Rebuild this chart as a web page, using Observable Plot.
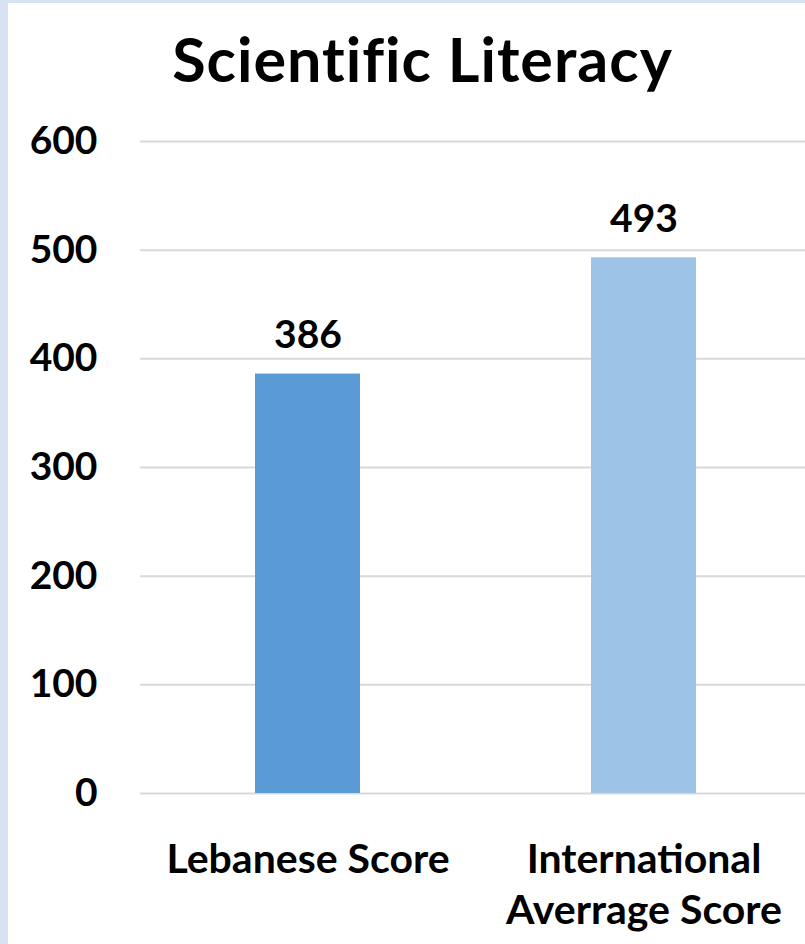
<!DOCTYPE html>
<html>
<head>
<meta charset="utf-8">
<script src="https://cdn.jsdelivr.net/npm/d3@7"></script>
<script src="https://cdn.jsdelivr.net/npm/@observablehq/plot@0.6"></script>
<style>
  html, body { margin: 0; padding: 0; background: #fff; }
  #wrap { position: relative; width: 805px; height: 944px; background: #fff; overflow: hidden; font-family: Lato, "Open Sans", sans-serif; }
  #stripL { position: absolute; left: 0; top: 0; width: 8px; height: 944px; background: #d7e2f2; }
  #stripT { position: absolute; left: 0; top: 0; width: 805px; height: 3px; background: #d7e2f2; }
  #title { position: absolute; left: 0; width: 845px; top: 22px; text-align: center; font-weight: 700; font-size: 61px; letter-spacing: 1px; color: #000; line-height: 74px; }
  #chart { position: absolute; left: 0; top: 100px; }
</style>
</head>
<body>
<div id="wrap">
  <div id="stripL"></div>
  <div id="stripT"></div>
  <div id="title">Scientific Literacy</div>
  <div id="chart"></div>
</div>
<script>
const categories = ["Lebanese Score", "International\nAverrage Score"];
const values = [386, 493];
const barColors = ["#5b9bd5", "#9dc3e6"];
const yTicks = [0, 100, 200, 300, 400, 500, 600];

const data = categories.map((c, i) => ({category: c, value: values[i], color: barColors[i]}));

const chart = Plot.plot({
  width: 805,
  height: 844,
  marginTop: 41,
  marginBottom: 151,
  marginLeft: 140,
  marginRight: 0,
  style: {fontFamily: "Lato, 'Open Sans', sans-serif", fontWeight: 700, color: "#000", background: "transparent"},
  x: {domain: categories, range: [140, 811], paddingInner: 0.6875, paddingOuter: 0.342, label: null},
  y: {domain: [0, 600], label: null},
  marks: [
    Plot.gridY(yTicks, {stroke: "#d9d9d9", strokeOpacity: 1, strokeWidth: 2}),
    Plot.barY(data, {x: "category", y: "value", fill: "color"}),
    Plot.text(data, {x: "category", y: "value", text: d => String(d.value), dy: -26, lineAnchor: "bottom", fontSize: 39, fontWeight: 700, fill: "#000"}),
    Plot.axisY(yTicks, {tickSize: 0, tickPadding: 43, fontSize: 39, fontWeight: 700, label: null, fill: "#000"}),
    Plot.axisX({tickSize: 0, tickPadding: 43, fontSize: 41, fontWeight: 700, lineAnchor: "top", lineHeight: 1.25, label: null, fill: "#000"})
  ]
});
document.getElementById("chart").appendChild(chart);
</script>
</body>
</html>
